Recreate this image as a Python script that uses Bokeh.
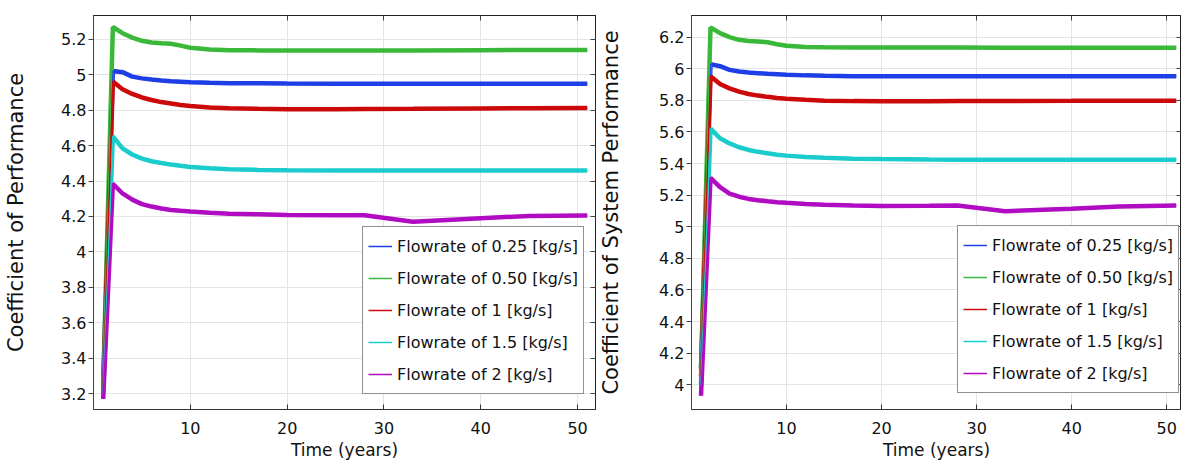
from bokeh.plotting import figure
from bokeh.models import ColumnDataSource, FixedTicker, LinearAxis, Legend, LegendItem, Range1d
from bokeh.layouts import row
from bokeh.embed import file_html
from bokeh.resources import INLINE

# ---------------- data ----------------
years = [1, 2, 3, 4, 5, 6, 7, 8, 9, 10, 12, 14, 17, 20, 25, 28, 33, 40, 45, 51]

series_labels = ["Flowrate of 0.25 [kg/s]", "Flowrate of 0.50 [kg/s]", "Flowrate of 1 [kg/s]",
                 "Flowrate of 1.5 [kg/s]", "Flowrate of 2 [kg/s]"]

# Coefficient of Performance (left)
cop_025 = [3.25, 5.022, 5.015, 4.990, 4.980, 4.973, 4.968, 4.964, 4.961, 4.958, 4.955, 4.953, 4.952, 4.951, 4.950, 4.950, 4.950, 4.950, 4.950, 4.950]
cop_050 = [3.25, 5.270, 5.235, 5.210, 5.192, 5.183, 5.178, 5.175, 5.165, 5.153, 5.143, 5.139, 5.138, 5.138, 5.138, 5.138, 5.138, 5.139, 5.140, 5.140]
cop_1 = [3.22, 4.962, 4.919, 4.892, 4.872, 4.858, 4.846, 4.838, 4.830, 4.824, 4.816, 4.811, 4.808, 4.806, 4.806, 4.807, 4.808, 4.810, 4.811, 4.812]
cop_15 = [3.20, 4.652, 4.585, 4.550, 4.527, 4.512, 4.502, 4.493, 4.486, 4.480, 4.472, 4.467, 4.463, 4.461, 4.460, 4.460, 4.460, 4.460, 4.460, 4.460]
cop_2 = [3.17, 4.385, 4.330, 4.295, 4.270, 4.256, 4.245, 4.237, 4.232, 4.228, 4.221, 4.216, 4.212, 4.208, 4.207, 4.207, 4.170, 4.190, 4.203, 4.205]

# Coefficient of System Performance (right)
cosp_025 = [4.10, 6.029, 6.016, 5.993, 5.982, 5.976, 5.972, 5.968, 5.965, 5.962, 5.958, 5.955, 5.953, 5.952, 5.952, 5.952, 5.952, 5.952, 5.952, 5.952]
cosp_050 = [4.10, 6.262, 6.225, 6.200, 6.183, 6.176, 6.172, 6.168, 6.155, 6.145, 6.138, 6.136, 6.135, 6.134, 6.134, 6.134, 6.133, 6.133, 6.133, 6.133]
cosp_1 = [4.05, 5.952, 5.903, 5.876, 5.855, 5.840, 5.830, 5.822, 5.815, 5.810, 5.803, 5.798, 5.795, 5.794, 5.794, 5.795, 5.796, 5.797, 5.798, 5.798]
cosp_15 = [4.00, 5.621, 5.560, 5.527, 5.503, 5.486, 5.474, 5.465, 5.456, 5.450, 5.442, 5.436, 5.431, 5.428, 5.425, 5.424, 5.424, 5.424, 5.424, 5.424]
cosp_2 = [3.93, 5.309, 5.250, 5.210, 5.190, 5.176, 5.168, 5.161, 5.155, 5.151, 5.144, 5.139, 5.134, 5.131, 5.132, 5.134, 5.098, 5.113, 5.128, 5.135]

x_ticks = [10, 20, 30, 40, 50]
cop_ticks = [3.2, 3.4, 3.6, 3.8, 4.0, 4.2, 4.4, 4.6, 4.8, 5.0, 5.2]
cop_tick_labels = ["3.2", "3.4", "3.6", "3.8", "4", "4.2", "4.4", "4.6", "4.8", "5", "5.2"]
cosp_ticks = [4.0, 4.2, 4.4, 4.6, 4.8, 5.0, 5.2, 5.4, 5.6, 5.8, 6.0, 6.2]
cosp_tick_labels = ["4", "4.2", "4.4", "4.6", "4.8", "5", "5.2", "5.4", "5.6", "5.8", "6", "6.2"]

colors = ["#1e3ee6", "#3ab83a", "#cc0a0a", "#1ccccc", "#b00cc2"]
FONT = "DejaVu Sans"


def make_panel(series, y_lo, y_hi, x_hi, yticks, ytick_labels, ylabel, width,
               mb_left, mb_right, label_standoff, legend_xy):
    p = figure(width=width, height=462, output_backend="svg", toolbar_location=None,
               x_range=Range1d(0, x_hi), y_range=Range1d(y_lo, y_hi),
               min_border_left=mb_left, min_border_right=mb_right,
               min_border_top=15, min_border_bottom=52)
    p.background_fill_color = "white"
    p.border_fill_color = "white"
    p.outline_line_color = "#222222"
    p.outline_line_width = 1

    src = ColumnDataSource(dict(x=years, **{f"s{i}": s for i, s in enumerate(series)}))
    items = []
    for i, c in enumerate(colors):
        p.line("x", f"s{i}", source=src, line_color=c, line_width=4.5)
    for i, c in enumerate(colors):
        r = p.line("x", f"s{i}", source=src, line_color=c, line_width=1.5)
        items.append(LegendItem(label=series_labels[i], renderers=[r]))

    # axes
    xa = p.xaxis[0]
    xa.ticker = FixedTicker(ticks=x_ticks)
    xa.major_tick_in = 5
    xa.major_tick_out = 0
    xa.minor_tick_line_color = None
    xa.axis_label = "Time (years)"
    xa.axis_label_text_font = FONT
    xa.axis_label_text_font_size = "17px"
    xa.axis_label_text_font_style = "normal"
    xa.axis_label_text_color = "#111111"
    xa.axis_label_standoff = 3
    xa.major_label_text_font = FONT
    xa.major_label_text_font_size = "16px"
    xa.major_label_text_color = "#111111"
    xa.major_label_standoff = 12
    xa.axis_line_color = "#333333"
    xa.major_tick_line_color = "#333333"

    ya = p.yaxis[0]
    ya.ticker = FixedTicker(ticks=yticks)
    ya.major_label_overrides = {t: l for t, l in zip(yticks, ytick_labels)}
    ya.major_tick_in = 0
    ya.major_tick_out = 5
    ya.minor_tick_line_color = None
    ya.axis_label = ylabel
    ya.axis_label_text_font = FONT
    ya.axis_label_text_font_size = "21px"
    ya.axis_label_text_font_style = "normal"
    ya.axis_label_text_color = "#111111"
    ya.axis_label_standoff = label_standoff
    ya.major_label_text_font = FONT
    ya.major_label_text_font_size = "16px"
    ya.major_label_text_color = "#111111"
    ya.major_label_standoff = 2
    ya.axis_line_color = "#444444"
    ya.major_tick_line_color = "#444444"

    # unlabeled inside ticks on top and right edges
    top = LinearAxis(ticker=FixedTicker(ticks=x_ticks), major_tick_in=5, major_tick_out=0,
                     minor_tick_line_color=None, major_label_text_font_size="1px",
                     major_label_text_color=None, major_label_standoff=0,
                     axis_line_color="#222222", major_tick_line_color="#444444")
    p.add_layout(top, "above")
    rt = LinearAxis(ticker=FixedTicker(ticks=yticks), major_tick_in=5, major_tick_out=0,
                    minor_tick_line_color=None, major_label_text_font_size="1px",
                    major_label_text_color=None, major_label_standoff=0,
                    axis_line_color="#222222", major_tick_line_color="#444444")
    p.add_layout(rt, "right")

    p.xgrid.ticker = FixedTicker(ticks=x_ticks)
    p.ygrid.ticker = FixedTicker(ticks=yticks)
    p.xgrid.grid_line_color = "#e4e4e4"
    p.ygrid.grid_line_color = "#e4e4e4"

    leg = Legend(items=items, location=legend_xy)
    leg.label_text_font = FONT
    leg.label_text_font_size = "16px"
    leg.label_text_color = "#111111"
    leg.glyph_width = 24
    leg.glyph_height = 28
    leg.label_height = 28
    leg.label_standoff = 5
    leg.spacing = 4
    leg.padding = 5
    leg.margin = 0
    leg.border_line_color = "#222222"
    leg.border_line_width = 1
    leg.background_fill_color = "white"
    leg.background_fill_alpha = 1.0
    p.add_layout(leg, "center")
    return p


p1 = make_panel([cop_025, cop_050, cop_1, cop_15, cop_2], 3.11, 5.335, 51.85,
                cop_ticks, cop_tick_labels, "Coefficient of Performance",
                596, 93, 1, 30, (269, 15))
p2 = make_panel([cosp_025, cosp_050, cosp_1, cosp_15, cosp_2], 3.843, 6.337, 51.55,
                cosp_ticks, cosp_tick_labels, "Coefficient of System Performance",
                585, 90, 0, 33, (266, 16))

layout = row(p1, p2)
open("out.html", "w").write(file_html(layout, INLINE))
